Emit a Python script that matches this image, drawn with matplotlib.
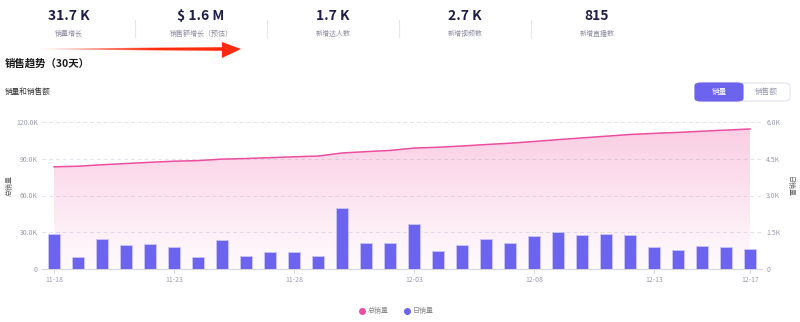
import numpy as np
import matplotlib
matplotlib.use("Agg")
import matplotlib.pyplot as plt
from matplotlib.patches import FancyBboxPatch, Polygon

plt.rcParams['font.family'] = ['Noto Sans CJK SC', 'DejaVu Sans']

# data
dates = ['11-18', '11-19', '11-20', '11-21', '11-22', '11-23', '11-24', '11-25',
         '11-26', '11-27', '11-28', '11-29', '11-30', '12-01', '12-02', '12-03',
         '12-04', '12-05', '12-06', '12-07', '12-08', '12-09', '12-10', '12-11',
         '12-12', '12-13', '12-14', '12-15', '12-16', '12-17']
total_sales = [83400, 83900, 85100, 86100, 87100, 88000, 88500, 89700, 90200, 90900,
               91600, 92200, 94700, 95800, 96800, 98700, 99400, 100400, 101600, 102700,
               104100, 105600, 107000, 108400, 109800, 110700, 111500, 112500, 113400, 114300]
daily_sales = [1430, 480, 1240, 980, 1020, 900, 480, 1190, 530, 710,
               710, 520, 2470, 1050, 1050, 1830, 740, 980, 1210, 1060,
               1360, 1490, 1390, 1430, 1380, 890, 780, 950, 900, 830]
left_ticks = [0, 30000, 60000, 90000, 120000]
left_labels = ['0', '30.0K', '60.0K', '90.0K', '120.0K']
right_ticks = [0, 1500, 3000, 4500, 6000]
right_labels = ['0', '1.5K', '3.0K', '4.5K', '6.0K']
kpi_values = ['31.7 K', '$ 1.6 M', '1.7 K', '2.7 K', '815']
kpi_names = ['销量增长', '销售额增长（预估）', '新增达人数', '新增视频数', '新增直播数']

pink = '#ec4f9f'
purple = '#6c63ee'
tick_col = '#9a9ab0'

fig = plt.figure(figsize=(8, 3.22), dpi=100)
W, H = 800, 322

def fx(px):
    return px / W

def fy(py):
    return 1 - py / H

# KPI header
for i, (v, n) in enumerate(zip(kpi_values, kpi_names)):
    cx = 69 + i * 132
    fig.text(fx(cx), fy(16), v, ha='center', va='center', fontsize=10,
             fontweight='bold', color='#1e1e4a')
    fig.text(fx(cx), fy(34), n, ha='center', va='center', fontsize=5, color='#8c8ca0')
    if i < 4:
        fig.add_artist(plt.Line2D([fx(cx + 66)] * 2, [fy(20), fy(37)],
                                  color='#e6e6ee', lw=0.8))

# red arrow annotation: gradient image clipped to an arrow shape (pixel coords)
arr_ax = fig.add_axes([fx(20), fy(62), fx(230), fy(38) - fy(62)])
arr_ax.set_xlim(20, 250)
arr_ax.set_ylim(62, 38)
arr_ax.axis('off')
ramp = np.zeros((1, 200, 4))
ramp[0, :, 0] = 1.0
ramp[0, :, 1] = 0.17
ramp[0, :, 2] = 0.05
ramp[0, :, 3] = np.clip(np.linspace(-0.05, 1.6, 200), 0, 1)
arrow_img = arr_ax.imshow(ramp, extent=[30, 224, 62, 38], aspect='auto')
shaft = Polygon([[30, 48.6], [224, 47.2], [224, 50.8], [30, 49.4]], closed=True,
                transform=arr_ax.transData)
arrow_img.set_clip_path(shaft)
arr_ax.add_patch(Polygon([[222, 42], [241, 49], [222, 58]], closed=True,
                         color='#ff2a10', lw=0))

fig.text(fx(5), fy(64), '销售趋势（30天）', ha='left', va='center', fontsize=7.5,
         fontweight='bold', color='#1a1a1a')
fig.text(fx(5), fy(92), '销量和销售额', ha='left', va='center', fontsize=5.5,
         color='#333333')

# toggle buttons
fig.add_artist(FancyBboxPatch((fx(695), fy(101)), fx(95), fy(83) - fy(101),
                              boxstyle='round,pad=0,rounding_size=0.008',
                              fc='white', ec='#e2e2ec', lw=0.8, transform=fig.transFigure))
fig.add_artist(FancyBboxPatch((fx(695), fy(101)), fx(48), fy(83) - fy(101),
                              boxstyle='round,pad=0,rounding_size=0.008',
                              fc=purple, ec=purple, lw=0.8, transform=fig.transFigure))
fig.text(fx(719), fy(92), '销量', ha='center', va='center', fontsize=5.5, color='white')
fig.text(fx(766), fy(92), '销售额', ha='center', va='center', fontsize=5.5, color='#9a9ab0')

# main chart
ax = fig.add_axes([fx(42), fy(269), fx(720), fy(122) - fy(269)])
ax2 = ax.twinx()
x = np.arange(len(dates))

ax.plot(x, total_sales, color=pink, lw=1.1, zorder=3)
fill = ax.fill_between(x, total_sales, 0, color='none')
grad = np.zeros((100, 1, 4))
grad[:, 0, 0] = 0.93
grad[:, 0, 1] = 0.31
grad[:, 0, 2] = 0.62
grad[:, 0, 3] = np.linspace(0.02, 0.28, 100)
img = ax.imshow(grad, extent=[0, len(dates) - 1, 0, max(total_sales)],
                aspect='auto', origin='lower', zorder=1)
img.set_clip_path(fill.get_paths()[0], transform=ax.transData)

ax.set_xlim(-0.5, len(dates) - 0.5)
ax.set_ylim(0, 120000)
ax.set_yticks(left_ticks)
ax.set_yticklabels(left_labels)
ax.grid(axis='y', color='#e4e4ec', ls=(0, (4, 3)), lw=0.7)
ax.set_axisbelow(True)

ax2.bar(x, daily_sales, width=0.5, color=purple, edgecolor='#c9c5fa', lw=0.6, zorder=3)
ax2.set_ylim(0, 6000)
ax2.set_yticks(right_ticks)
ax2.set_yticklabels(right_labels)

xt = [0, 5, 10, 15, 20, 25, 29]
ax.set_xticks(xt)
ax.set_xticklabels([dates[i] for i in xt])

for a in (ax, ax2):
    for s in a.spines.values():
        s.set_visible(False)
    a.tick_params(axis='y', length=0, labelsize=5, colors=tick_col, pad=3)
ax.spines['bottom'].set_visible(True)
ax.spines['bottom'].set_color('#d6d6e0')
ax.tick_params(axis='x', length=3, color='#d6d6e0', labelsize=5, labelcolor=tick_col, pad=2)

fig.text(fx(10), fy(185), '总销量', rotation=90, ha='center', va='center',
         fontsize=5, color='#666666')
fig.text(fx(790), fy(187), '日销量', rotation=270, ha='center', va='center',
         fontsize=5, color='#666666')

# legend
fig.add_artist(plt.Line2D([fx(362)], [fy(311)], marker='o', ms=4, color=pink, lw=0))
fig.text(fx(368), fy(311), '总销量', ha='left', va='center', fontsize=5, color='#888888')
fig.add_artist(plt.Line2D([fx(407)], [fy(311)], marker='o', ms=4, color=purple, lw=0))
fig.text(fx(413), fy(311), '日销量', ha='left', va='center', fontsize=5, color='#888888')

fig.savefig('out.png', dpi=100)
